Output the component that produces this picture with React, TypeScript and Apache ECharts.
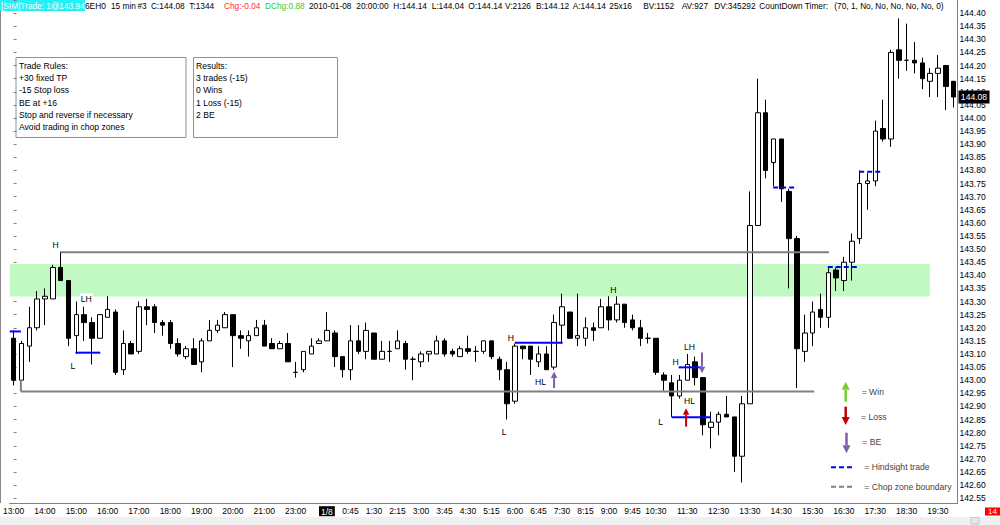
import React, { useEffect, useRef } from "react";
import * as echarts from "echarts";

const FONT = '"Liberation Sans", Arial, sans-serif';

// ---- bar times (15 min), 1/7 13:00 .. 1/8 20:00 ----
const categories = [
  "1/7 13:00","1/7 13:15","1/7 13:30","1/7 13:45","1/7 14:00","1/7 14:15","1/7 14:30","1/7 14:45",
  "1/7 15:00","1/7 15:15","1/7 15:30","1/7 15:45","1/7 16:00","1/7 16:15","1/7 16:30","1/7 16:45",
  "1/7 17:00","1/7 17:15","1/7 17:30","1/7 17:45","1/7 18:00","1/7 18:15","1/7 18:30","1/7 18:45",
  "1/7 19:00","1/7 19:15","1/7 19:30","1/7 19:45","1/7 20:00","1/7 20:15","1/7 20:30","1/7 20:45",
  "1/7 21:00","1/7 21:15","1/7 21:30","1/7 21:45","1/7 23:00","1/7 23:15","1/7 23:30","1/7 23:45",
  "1/8 0:00","1/8 0:15","1/8 0:30","1/8 0:45","1/8 1:00","1/8 1:15","1/8 1:30","1/8 1:45",
  "1/8 2:00","1/8 2:15","1/8 2:30","1/8 2:45","1/8 3:00","1/8 3:15","1/8 3:30","1/8 3:45",
  "1/8 4:00","1/8 4:15","1/8 4:30","1/8 4:45","1/8 5:00","1/8 5:15","1/8 5:30","1/8 5:45",
  "1/8 6:00","1/8 6:15","1/8 6:30","1/8 6:45","1/8 7:00","1/8 7:15","1/8 7:30","1/8 7:45",
  "1/8 8:00","1/8 8:15","1/8 8:30","1/8 8:45","1/8 9:00","1/8 9:15","1/8 9:30","1/8 9:45",
  "1/8 10:00","1/8 10:15","1/8 10:30","1/8 10:45","1/8 11:00","1/8 11:15","1/8 11:30","1/8 11:45",
  "1/8 12:00","1/8 12:15","1/8 12:30","1/8 12:45","1/8 13:00","1/8 13:15","1/8 13:30","1/8 13:45",
  "1/8 14:00","1/8 14:15","1/8 14:30","1/8 14:45","1/8 15:00","1/8 15:15","1/8 15:30","1/8 15:45",
  "1/8 16:00","1/8 16:15","1/8 16:30","1/8 16:45","1/8 17:00","1/8 17:15","1/8 17:30","1/8 17:45",
  "1/8 18:00","1/8 18:15","1/8 18:30","1/8 18:45","1/8 19:00","1/8 19:15","1/8 19:30","1/8 19:45",
  "1/8 20:00",
];

const opens = [
  143.16,143.00,143.13,143.20,143.31,143.31,143.43,143.38,143.17,143.25,
  143.22,143.16,143.24,143.26,143.04,143.14,143.11,143.28,143.28,143.22,
  143.22,143.14,143.09,143.12,143.07,143.15,143.19,143.20,143.25,143.17,
  143.15,143.17,143.21,143.14,143.12,143.14,143.03,143.04,143.10,143.14,
  143.15,143.18,143.09,143.04,143.15,143.11,143.18,143.08,143.11,143.12,
  143.14,143.08,143.07,143.10,143.10,143.15,143.11,143.09,143.12,143.11,
  143.11,143.15,143.08,143.04,142.92,143.13,143.13,143.07,143.10,143.05,
  143.21,143.26,143.16,143.16,143.20,143.20,143.28,143.23,143.29,143.23,
  143.20,143.16,143.16,143.02,142.99,142.94,143.00,143.07,143.01,142.82,
  142.84,142.87,142.86,142.71,142.91,143.59,144.02,143.83,143.92,143.72,
  143.54,143.11,143.18,143.27,143.24,143.42,143.38,143.45,143.54,143.75,
  143.76,143.96,143.92,144.26,144.22,144.22,144.21,144.14,144.17,144.20,
  144.14,
];
const highs = [
  143.19,143.15,143.28,143.34,143.35,143.44,143.49,143.38,143.30,143.28,
  143.24,143.25,143.32,143.27,143.19,143.15,143.30,143.31,143.29,143.23,
  143.23,143.16,143.13,143.16,143.16,143.23,143.23,143.26,143.25,143.19,
  143.19,143.23,143.23,143.16,143.15,143.18,143.07,143.11,143.16,143.16,
  143.26,143.19,143.09,143.21,143.21,143.22,143.18,143.15,143.15,143.19,
  143.15,143.09,143.11,143.11,143.17,143.16,143.12,143.13,143.17,143.13,
  143.15,143.15,143.09,143.07,143.14,143.13,143.13,143.13,143.13,143.25,
  143.33,143.26,143.33,143.24,143.22,143.31,143.32,143.32,143.29,143.25,
  143.23,143.18,143.16,143.03,143.02,143.02,143.10,143.09,143.01,142.88,
  142.88,142.94,142.86,142.94,143.72,144.15,144.07,143.92,143.92,143.73,
  143.55,143.25,143.30,143.33,143.43,143.43,143.47,143.56,143.80,143.79,
  143.99,144.07,144.26,144.38,144.36,144.29,144.23,144.19,144.24,144.20,
  144.14,
];
const lows = [
  142.98,143.00,143.07,143.19,143.21,143.31,143.38,143.13,143.10,143.15,
  143.06,143.16,143.24,143.02,143.02,143.10,143.10,143.21,143.18,143.17,
  143.12,143.09,143.08,143.06,143.03,143.15,143.18,143.20,143.05,143.12,
  143.09,143.17,143.13,143.12,143.12,143.07,143.01,143.03,143.10,143.14,
  143.15,143.05,143.01,143.00,143.10,143.08,143.08,143.08,143.07,143.12,
  143.04,143.00,143.05,143.07,143.10,143.09,143.09,143.09,143.10,143.07,
  143.10,143.08,143.00,142.85,142.91,143.08,143.02,143.05,143.04,143.04,
  143.14,143.16,143.13,143.13,143.15,143.20,143.19,143.22,143.20,143.19,
  143.13,143.14,143.02,142.96,142.86,142.93,143.00,142.98,142.79,142.74,
  142.79,142.86,142.65,142.61,142.91,143.59,143.77,143.74,143.68,143.35,
  142.97,143.07,143.13,143.20,143.20,143.34,143.34,143.38,143.52,143.65,
  143.74,143.91,143.89,144.15,144.18,144.17,144.11,144.08,144.08,144.03,
  144.04,
];
const closes = [
  143.00,143.14,143.20,143.31,143.32,143.43,143.38,143.16,143.25,143.22,
  143.16,143.25,143.27,143.03,143.14,143.10,143.28,143.27,143.22,143.21,
  143.14,143.10,143.12,143.06,143.15,143.19,143.21,143.25,143.17,143.16,
  143.17,143.20,143.13,143.12,143.14,143.07,143.03,143.11,143.13,143.15,
  143.19,143.09,143.04,143.15,143.11,143.19,143.08,143.11,143.11,143.15,
  143.08,143.08,143.10,143.11,143.15,143.10,143.10,143.12,143.11,143.11,
  143.15,143.09,143.04,142.91,143.13,143.12,143.08,143.10,143.04,143.22,
  143.28,143.16,143.17,143.20,143.19,143.28,143.23,143.29,143.22,143.20,
  143.16,143.16,143.03,143.00,142.94,143.00,143.06,143.01,142.83,142.84,
  142.87,142.86,142.71,142.91,143.59,144.02,143.80,143.92,143.73,143.54,
  143.12,143.18,143.26,143.24,143.41,143.39,143.45,143.53,143.75,143.76,
  143.95,143.92,144.25,144.22,144.22,144.21,144.15,144.17,144.19,144.12,
  144.08,
];

// ---- x tick labels ----
const tickIndex = [0,4,8,12,16,20,24,28,32,36,40,43,46,49,52,55,58,61,64,67,70,73,76,79,82,86,90,94,98,102,106,110,114,118];
const tickText = ["13:00","14:00","15:00","16:00","17:00","18:00","19:00","20:00","21:00","23:00","1/8","0:45","1:30","2:15","3:00","3:45","4:30","5:15","6:00","6:45","7:30","8:15","9:00","9:45","10:30","11:30","12:30","13:30","14:30","15:30","16:30","17:30","18:30","19:30"];

const lastPrice = 144.08;

// ---- annotations (x in bar units, y in price) ----
const chopZone = [[-0.5, 143.443, 116.95, 143.319]];
const chopLines = [
  [6, 143.488, 104.1, 143.488],
  [0.93, 143.0, 0.93, 142.957],
  [0.93, 142.957, 102.2, 142.957],
];
const tradeLines = [
  [-0.5, 143.186, 0.93, 143.186],
  [7.9, 143.105, 11.07, 143.105],
  [64, 143.143, 70.08, 143.143],
  [84, 142.859, 89, 142.859],
  [84.9, 143.049, 87.75, 143.049],
];
const hindsightLines = [
  [96.96, 143.735, 99.75, 143.735],
  [103.94, 143.432, 108.03, 143.432],
  [107.95, 143.795, 110.87, 143.795],
];
const arrowX = [69.0, 85.85, 87.88];
const arrowFrom = [142.97, 142.823, 143.106];
const arrowTo = [143.033, 142.893, 143.027];
const arrowKind = ["be", "loss", "be"];
const swingX = [5.37, 9.26, 7.57, 63.47, 62.62, 67.27, 76.56, 82.6, 84.5, 86.28, 86.28];
const swingY = [143.516, 143.31, 143.055, 143.16, 142.804, 142.995, 143.345, 142.842, 143.071, 143.125, 142.919];
const swingText = ["H", "LH", "L", "H", "L", "HL", "H", "L", "H", "LH", "HL"];

const rulesLines = ["Trade Rules:", "+30 fixed TP", "-15 Stop loss", "BE at +16", "Stop and reverse if necessary", "Avoid trading in chop zones"];
const resultLines = ["Results:", "3 trades (-15)", "0 Wins", "1 Loss (-15)", "2 BE"];

const headerParts: [string, number, string][] = [
  ["6EH0", 85, "#000"], ["15 min", 111, "#000"], ["#3", 137.5, "#000"], ["C:144.08", 151, "#000"],
  ["T:1344", 189.3, "#000"], ["Chg:-0.04", 224, "#ff3030"], ["DChg:0.88", 265, "#33cc33"],
  ["2010-01-08", 309, "#000"], ["20:00:00", 356.3, "#000"], ["H:144.14", 393.3, "#000"],
  ["L:144.04", 431.7, "#000"], ["O:144.14", 468.3, "#000"], ["V:2126", 505, "#000"],
  ["B:144.12", 536, "#000"], ["A:144.14", 572.7, "#000"], ["25x16", 609.3, "#000"],
  ["BV:1152", 643.3, "#000"], ["AV:927", 681.7, "#000"], ["DV:345292", 714.3, "#000"],
  ["CountDown Timer:", 759.3, "#000"], ["(70, 1, No, No, No, No, No, 0)", 834.3, "#000"],
];

const COLORS: Record<string, string> = { win: "#78cc35", loss: "#c00000", be: "#7f60a8" };

function arrow(x: number, yTail: number, yTip: number, color: string, shaft: number, hw: number, hh: number) {
  const dir = yTip < yTail ? -1 : 1;
  const base = yTip - dir * hh;
  return {
    type: "group",
    children: [
      { type: "line", shape: { x1: x, y1: yTail, x2: x, y2: base }, style: { stroke: color, lineWidth: shaft } },
      { type: "polygon", shape: { points: [[x - hw / 2, base], [x + hw / 2, base], [x, yTip]] }, style: { fill: color } },
    ],
  };
}

export default function App() {
  const ref = useRef<HTMLDivElement>(null);
  useEffect(() => {
    if (!ref.current) return;
    const chart = echarts.init(ref.current, null, { renderer: "svg" });
    const tickSet = new Set(tickIndex);
    const tickMap: Record<number, string> = {};
    tickIndex.forEach((t, i) => (tickMap[t] = tickText[i]));
    const candleData = opens.map((o, i) => [o, closes[i], lows[i], highs[i]]);

    const segData = [
      ...chopLines.map((s) => [...s, 0]),
      ...tradeLines.map((s) => [...s, 1]),
      ...hindsightLines.map((s) => [...s, 2]),
    ];

    const graphic: any[] = [];
    graphic.push({ type: "line", shape: { x1: 0.5, y1: 0, x2: 0.5, y2: 503 }, style: { stroke: "#888", lineWidth: 1 } });
    graphic.push({ type: "line", shape: { x1: 957.5, y1: 0, x2: 957.5, y2: 503.5 }, style: { stroke: "#808080", lineWidth: 1 }, z: 10 });
    graphic.push({ type: "rect", shape: { x: 0, y: 0, width: 85, height: 11 }, style: { fill: "#22f2f6" } });
    graphic.push({ type: "text", x: 1, y: 5.5, style: { text: "[SIM]Trade: 1@143.94", fill: "#fff", fontSize: 8.3, fontFamily: FONT, verticalAlign: "middle" } });
    headerParts.forEach(([t, x, c]) => {
      graphic.push({ type: "text", x, y: 5.5, style: { text: t, fill: c, fontSize: 8.3, fontFamily: FONT, verticalAlign: "middle" } });
    });
    graphic.push({ type: "rect", shape: { x: 16, y: 57.5, width: 170, height: 80 }, style: { fill: "#fff", stroke: "#8393ab", lineWidth: 1 } });
    graphic.push({ type: "rect", shape: { x: 193.5, y: 57.5, width: 144, height: 80 }, style: { fill: "#fff", stroke: "#8393ab", lineWidth: 1 } });
    rulesLines.forEach((t, i) => {
      graphic.push({ type: "text", x: 19, y: 65.7 + i * 12.3, style: { text: t, fill: "#000", fontSize: 8.6, fontFamily: FONT, verticalAlign: "middle" } });
    });
    resultLines.forEach((t, i) => {
      graphic.push({ type: "text", x: 196, y: 65.7 + i * 12.3, style: { text: t, fill: "#000", fontSize: 8.6, fontFamily: FONT, verticalAlign: "middle" } });
    });
    graphic.push({ ...arrow(845.7, 401.7, 381.7, COLORS.win, 2.5, 8, 8), z: 20 });
    graphic.push({ ...arrow(845.7, 406.7, 425, COLORS.loss, 2.5, 8, 8), z: 20 });
    graphic.push({ ...arrow(846.5, 432.7, 453.3, COLORS.be, 2.5, 8, 8), z: 20 });
    graphic.push({ type: "line", shape: { x1: 831, y1: 467.3, x2: 854.3, y2: 467.3 }, style: { stroke: "#0000ff", lineWidth: 2, lineDash: [5, 3] } });
    graphic.push({ type: "line", shape: { x1: 831, y1: 486.7, x2: 854.3, y2: 486.7 }, style: { stroke: "#808080", lineWidth: 2, lineDash: [5, 3] } });
    const legendTexts: [string, number, number][] = [
      ["= Win", 861.7, 391.7], ["= Loss", 861, 416.7], ["= BE", 862.3, 441.7],
      ["= Hindsight trade", 864.3, 466.5], ["= Chop zone boundary", 864.3, 486.5],
    ];
    legendTexts.forEach(([t, x, y]) => {
      graphic.push({ type: "text", x, y, style: { text: t, fill: "#444", fontSize: 8.6, fontFamily: FONT, verticalAlign: "middle" } });
    });
    graphic.push({ type: "rect", shape: { x: 0, y: 517, width: 1000, height: 8 }, style: { fill: "#f0f0f0" } });
    graphic.push({ type: "rect", shape: { x: 971, y: 517.5, width: 8, height: 6.5 }, style: { fill: "#e6e6e6", stroke: "#c8c8c8", lineWidth: 1 } });
    graphic.push({ type: "rect", shape: { x: 985, y: 507.5, width: 15, height: 8 }, style: { fill: "#ff0000" } });
    graphic.push({ type: "text", x: 992.5, y: 511.5, style: { text: "14", fill: "#fff", fontSize: 8, fontFamily: FONT, align: "center", verticalAlign: "middle" } });

    const option: any = {
      animation: false,
      backgroundColor: "#fff",
      grid: { left: 2, right: 42.5, top: 0, bottom: 26.8, containLabel: false },
      xAxis: [
        {
          type: "category",
          data: categories,
          boundaryGap: true,
          position: "bottom",
          offset: 5,
          axisLine: { onZero: false, lineStyle: { color: "#808080", width: 1 } },
          axisTick: { interval: (i: number) => tickSet.has(i), alignWithLabel: true, length: 2, lineStyle: { color: "#808080" } },
          axisLabel: {
            interval: (i: number) => tickSet.has(i),
            formatter: (_v: string, i: number) => (tickMap[i] === "1/8" ? "{inv|1/8}" : tickMap[i] || ""),
            fontSize: 8.5,
            fontFamily: FONT,
            color: "#000",
            margin: 3,
            rich: { inv: { backgroundColor: "#000", color: "#fff", fontSize: 8.5, fontFamily: FONT, padding: [1, 2, 0, 2] } },
          },
          splitLine: { show: false },
        },
        { type: "value", min: -0.5, max: 120.5, show: false, position: "top" },
      ],
      yAxis: {
        type: "value",
        position: "right",
        min: 142.55,
        max: 144.45,
        interval: 0.05,
        scale: true,
        axisLine: { show: false },
        axisTick: { show: true, length: 3, lineStyle: { color: "#808080" } },
        axisLabel: {
          fontSize: 8.6,
          fontFamily: FONT,
          color: "#000",
          margin: 2,
          formatter: (v: number) => (v > 144.42 ? "" : v.toFixed(2)),
        },
        splitLine: { show: false },
      },
      series: [
        {
          type: "custom",
          xAxisIndex: 1,
          yAxisIndex: 0,
          z: 1,
          data: chopZone,
          renderItem: (_p: any, api: any) => {
            const a = api.coord([api.value(0), api.value(1)]);
            const b = api.coord([api.value(2), api.value(3)]);
            return { type: "rect", shape: { x: a[0], y: a[1], width: b[0] - a[0], height: b[1] - a[1] }, style: { fill: "#c2f9c2" } };
          },
        },
        {
          type: "candlestick",
          xAxisIndex: 0,
          yAxisIndex: 0,
          z: 2,
          barWidth: 5,
          data: candleData,
          itemStyle: { color: "#ffffff", color0: "#000000", borderColor: "#000000", borderColor0: "#000000", borderWidth: 1 },
        },
        {
          type: "custom",
          xAxisIndex: 1,
          yAxisIndex: 0,
          z: 3,
          data: segData,
          renderItem: (_p: any, api: any) => {
            const a = api.coord([api.value(0), api.value(1)]);
            const b = api.coord([api.value(2), api.value(3)]);
            const k = api.value(4);
            return {
              type: "line",
              shape: { x1: a[0], y1: a[1], x2: b[0], y2: b[1] },
              style: { stroke: k === 0 ? "#808080" : "#0000ff", lineWidth: 2, lineDash: k === 2 ? [5, 3] : null },
            };
          },
        },
        {
          type: "custom",
          xAxisIndex: 1,
          yAxisIndex: 0,
          z: 4,
          data: arrowX.map((x, i) => [x, arrowFrom[i], arrowTo[i]]),
          renderItem: (p: any, api: any) => {
            const a = api.coord([api.value(0), api.value(1)]);
            const b = api.coord([api.value(0), api.value(2)]);
            return arrow(a[0], a[1], b[1], COLORS[arrowKind[p.dataIndex]], 2, 6.5, 6.5);
          },
        },
        {
          type: "scatter",
          xAxisIndex: 1,
          yAxisIndex: 0,
          z: 5,
          symbol: "rect",
          symbolSize: (_v: any, p: any) => (p.dataIndex === 1 ? [13, 11] : 0),
          itemStyle: { color: "#ffffff", opacity: 1 },
          silent: true,
          data: swingX.map((x, i) => [x, swingY[i]]),
          label: {
            show: true,
            position: "inside",
            formatter: (p: any) => swingText[p.dataIndex],
            color: "#000000",
            fontSize: 8.6,
            fontFamily: FONT,
            textBorderWidth: 0,
          },
        },
        {
          type: "custom",
          xAxisIndex: 1,
          yAxisIndex: 0,
          z: 6,
          clip: false,
          data: [[120.5, lastPrice]],
          renderItem: (_p: any, api: any) => {
            const a = api.coord([api.value(0), api.value(1)]);
            return {
              type: "group",
              children: [
                { type: "rect", shape: { x: a[0] + 1, y: a[1] - 6.5, width: 31, height: 13 }, style: { fill: "#000" } },
                { type: "text", x: a[0] + 16.5, y: a[1], style: { text: api.value(1).toFixed(2), fill: "#fff", fontSize: 8.6, fontFamily: FONT, align: "center", verticalAlign: "middle" } },
              ],
            };
          },
        },
      ],
      graphic,
    };
    chart.setOption(option);
    return () => chart.dispose();
  }, []);
  return <div ref={ref} style={{ position: "fixed", left: 0, top: 0, width: 1000, height: 525, background: "#fff" }} />;
}
